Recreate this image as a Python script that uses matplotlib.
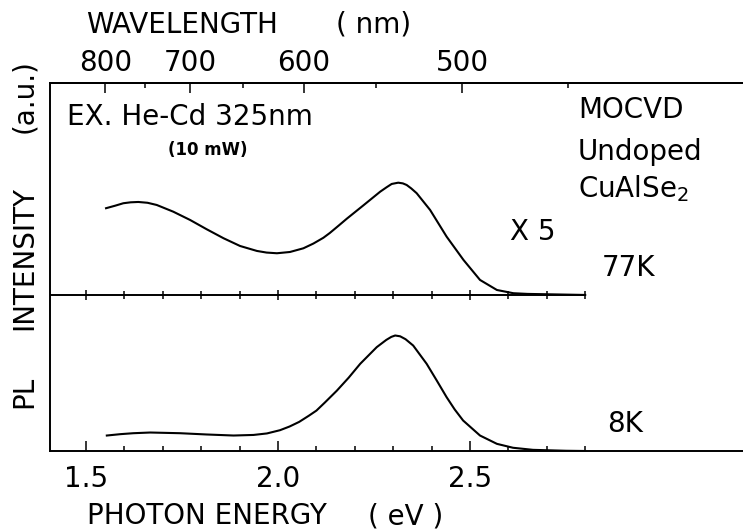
import numpy as np
import matplotlib
matplotlib.use('Agg')
import matplotlib.pyplot as plt

# PL spectra of undoped MOCVD CuAlSe2, intensities in a.u. (8K peak = 1)
energy_77k = [1.552, 1.576, 1.597, 1.616, 1.636, 1.660, 1.684, 1.727, 1.771,
              1.814, 1.858, 1.901, 1.945, 1.970, 1.997, 2.031, 2.066, 2.092,
              2.118, 2.135, 2.157, 2.179, 2.222, 2.266, 2.283, 2.296, 2.313,
              2.325, 2.335, 2.347, 2.361, 2.396, 2.439, 2.483, 2.526, 2.570,
              2.613, 2.650, 2.70, 2.80]
pl_77k_x5 = [0.751, 0.773, 0.794, 0.802, 0.805, 0.798, 0.779, 0.721, 0.649,
             0.569, 0.491, 0.424, 0.381, 0.367, 0.361, 0.372, 0.404, 0.445,
             0.495, 0.537, 0.598, 0.660, 0.775, 0.894, 0.933, 0.961, 0.972,
             0.966, 0.952, 0.922, 0.881, 0.736, 0.505, 0.303, 0.130, 0.043,
             0.015, 0.009, 0.006, 0.0]

energy_8k = [1.554, 1.590, 1.623, 1.667, 1.745, 1.814, 1.884, 1.936, 1.971,
             2.005, 2.030, 2.055, 2.080, 2.100, 2.122, 2.153, 2.184, 2.214,
             2.257, 2.282, 2.295, 2.305, 2.318, 2.332, 2.352, 2.387, 2.413,
             2.439, 2.460, 2.482, 2.526, 2.570, 2.612, 2.664, 2.75, 2.80]
pl_8k = [0.134, 0.146, 0.154, 0.160, 0.154, 0.143, 0.134, 0.139, 0.152,
         0.180, 0.212, 0.252, 0.305, 0.350, 0.420, 0.522, 0.635, 0.755,
         0.899, 0.962, 0.988, 1.0, 0.993, 0.968, 0.913, 0.755, 0.612,
         0.466, 0.360, 0.264, 0.134, 0.062, 0.028, 0.010, 0.002, 0.0]

major_e = [1.5, 2.0, 2.5]
minor_e = [1.6, 1.7, 1.8, 1.9, 2.1, 2.2, 2.3, 2.4, 2.6, 2.7, 2.8]
major_nm = [800, 700, 600, 500]
minor_nm = [750, 650, 550, 450]

offset_77k = 1.351   # baseline of the upper trace
e_end = 2.8

W, H = 743, 529
plt.rcParams['font.family'] = ['DejaVu Sans']
fs = 20
fig = plt.figure(figsize=(W / 100, H / 100), dpi=100)
ax = fig.add_axes([50 / W, 1 - 451 / H, (W - 50) / W, (451 - 83) / H])
ax.set_xlim(1.406, 3.211)
ax.set_ylim(0, 3.186)

lw = 1.5
ax.plot(energy_8k, pl_8k, color='black', lw=lw, solid_joinstyle='round')
ax.plot(energy_77k, np.array(pl_77k_x5) + offset_77k, color='black', lw=lw,
        solid_joinstyle='round')

# baseline of the 77K trace with its own tick marks
ax.plot([1.406, e_end], [offset_77k, offset_77k], color='black', lw=1.4)
ax.plot(minor_e, [offset_77k] * len(minor_e), ls='none', marker='|',
        ms=5.5, mew=1.1, color='black')
ax.plot(major_e, [offset_77k] * len(major_e), ls='none', marker='|',
        ms=7, mew=1.1, color='black')

for s in ['left', 'bottom', 'top']:
    ax.spines[s].set_linewidth(1.4)
ax.spines['right'].set_visible(False)

ax.set_xticks(major_e)
ax.set_xticks(minor_e, minor=True)
ax.set_xticklabels(['1.5', '2.0', '2.5'])
ax.set_yticks([])
ax.tick_params(axis='x', which='major', direction='in', length=7, width=1.1,
               labelsize=fs, pad=10)
ax.tick_params(axis='x', which='minor', direction='in', length=3.6, width=1.1)

# wavelength scale on top
top = ax.secondary_xaxis('top', functions=(lambda e: 1239.84 / e,
                                           lambda w: 1239.84 / w))
top.set_xticks(major_nm)
top.set_xticks(minor_nm, minor=True)
top.set_xticklabels([str(v) for v in major_nm])
top.tick_params(which='major', direction='in', length=7, width=1.1,
                labelsize=fs, pad=4)
top.tick_params(which='minor', direction='in', length=3.6, width=1.1)
top.spines['top'].set_linewidth(1.4)


def put(x, y, s, **kw):
    kw.setdefault('fontsize', fs)
    fig.text(x / W, 1 - y / H, s, va='center', **kw)


def put_v(y, s):
    fig.text(24 / W, 1 - y / H, s, rotation=90, ha='center', va='center',
             fontsize=fs)


put(86, 25, 'WAVELENGTH')
put(336, 25, '( nm)')
put(87, 516, 'PHOTON ENERGY')
put(368, 516, '( eV )')
put_v(392, 'PL')
put_v(258, 'INTENSITY')
put_v(96, '(a.u.)')

put(67, 117, 'EX. He-Cd 325nm')
put(168, 150, '(10 mW)', fontsize=12, fontweight='bold')
put(578, 110, 'MOCVD')
put(578, 152, 'Undoped')
put(578, 189, r'CuAlSe$_2$')
put(510, 232, 'X 5')
put(602, 268, '77K')
put(607, 424, '8K')

fig.savefig('out.png', dpi=100)
